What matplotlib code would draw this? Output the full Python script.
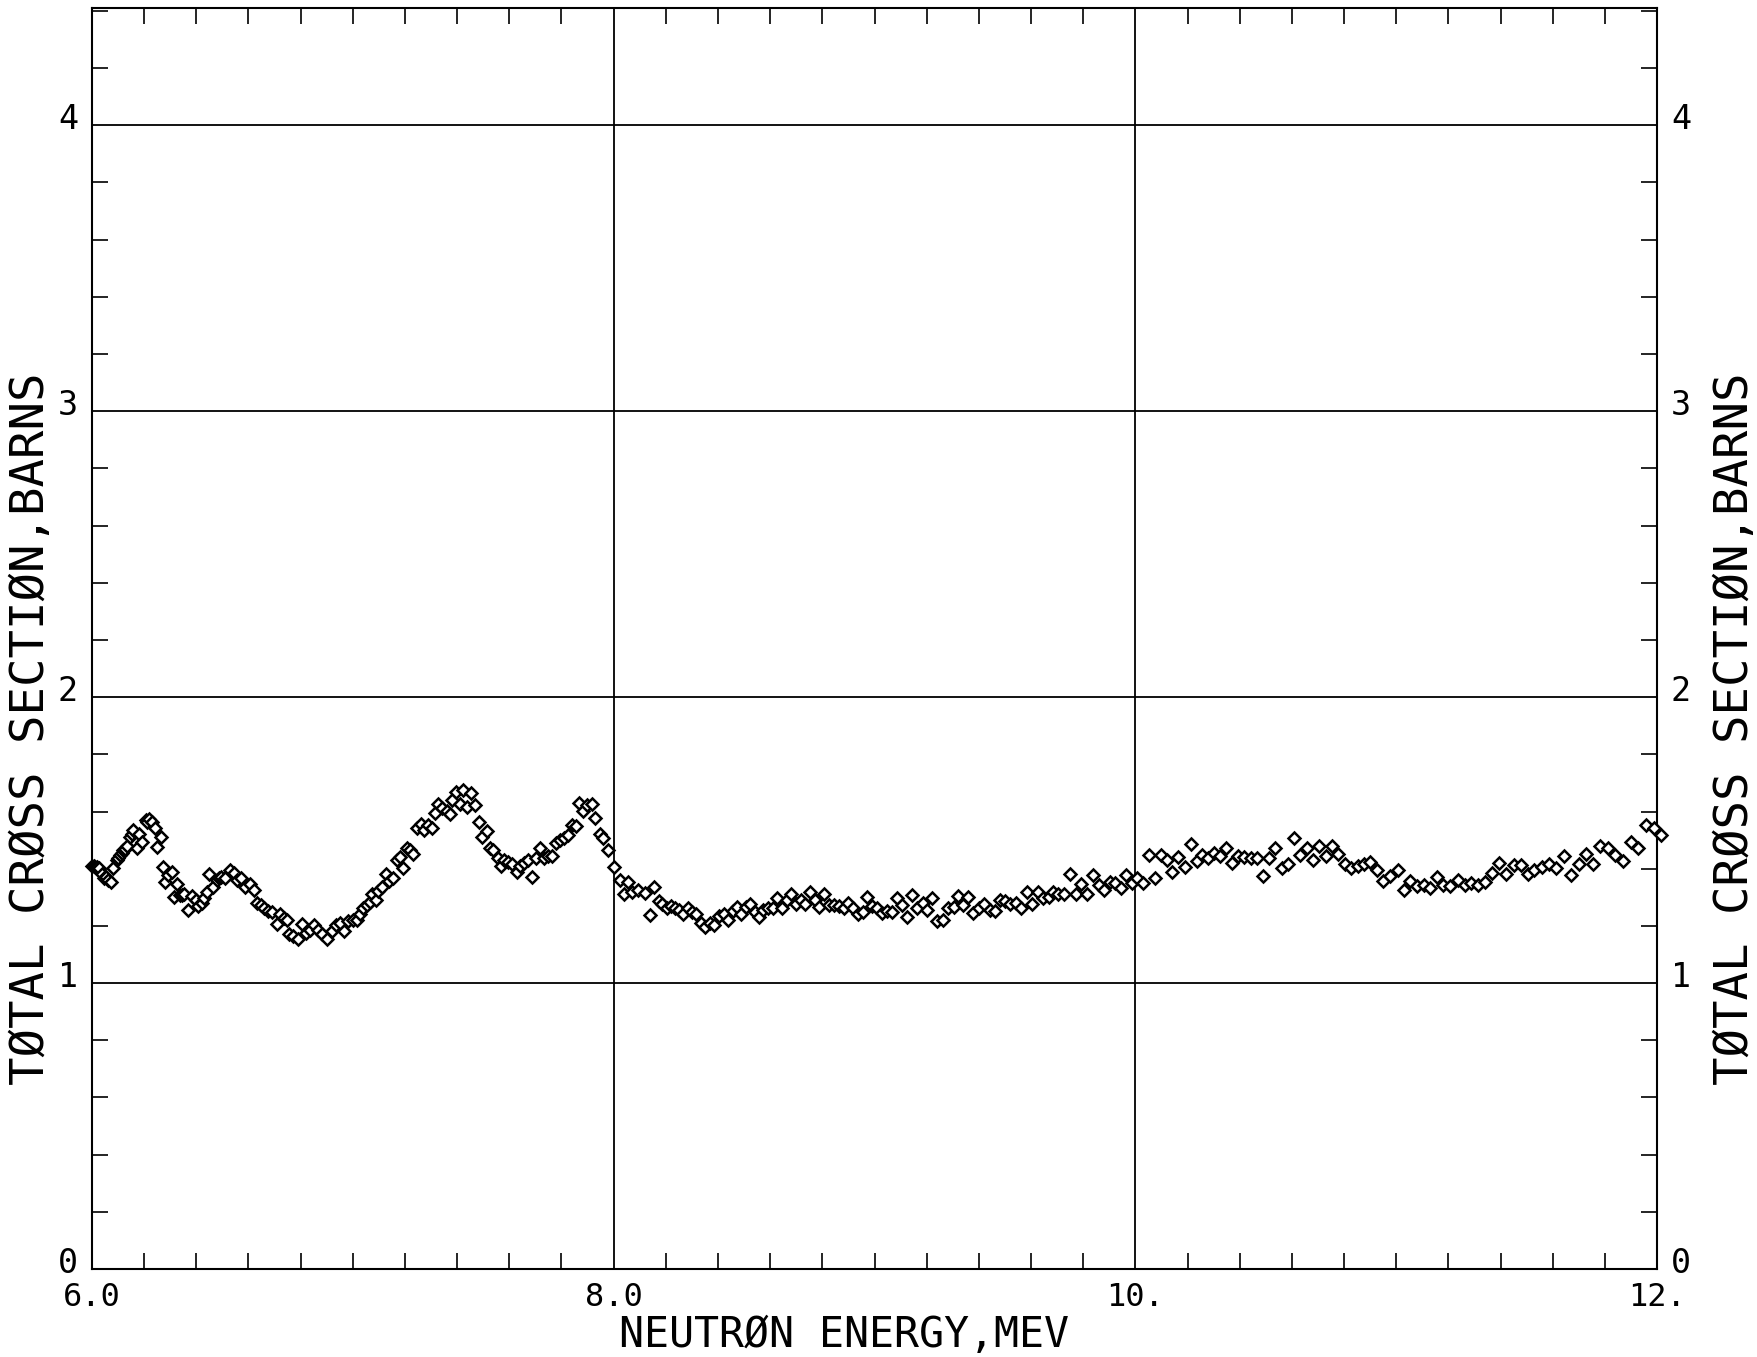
import matplotlib.pyplot as plt
import numpy as np
from matplotlib.transforms import ScaledTranslation

# total cross section vs neutron energy
energy_mev = [
    5.999, 6.006, 6.012, 6.020, 6.027, 6.040, 6.047, 6.055, 6.063, 6.073, 6.082, 6.095,
    6.101, 6.107, 6.114, 6.120, 6.126, 6.133, 6.146, 6.152, 6.159, 6.171, 6.180, 6.193,
    6.206, 6.212, 6.219, 6.229, 6.242, 6.248, 6.263, 6.271, 6.280, 6.293, 6.306, 6.316,
    6.326, 6.337, 6.345, 6.353, 6.369, 6.382, 6.397, 6.408, 6.420, 6.431, 6.440, 6.449,
    6.465, 6.478, 6.487, 6.495, 6.510, 6.529, 6.544, 6.555, 6.570, 6.587, 6.606, 6.622,
    6.634, 6.647, 6.660, 6.676, 6.691, 6.708, 6.721, 6.736, 6.748, 6.757, 6.772, 6.789,
    6.804, 6.819, 6.836, 6.852, 6.868, 6.883, 6.900, 6.919, 6.934, 6.951, 6.968, 6.983,
    7.002, 7.015, 7.028, 7.040, 7.053, 7.066, 7.075, 7.088, 7.098, 7.113, 7.126, 7.139,
    7.155, 7.168, 7.181, 7.194, 7.206, 7.219, 7.232, 7.245, 7.260, 7.274, 7.290, 7.302,
    7.315, 7.328, 7.343, 7.360, 7.373, 7.382, 7.394, 7.411, 7.424, 7.437, 7.453, 7.469,
    7.484, 7.497, 7.513, 7.526, 7.539, 7.555, 7.568, 7.581, 7.596, 7.612, 7.628, 7.641,
    7.656, 7.673, 7.686, 7.702, 7.718, 7.734, 7.750, 7.765, 7.778, 7.794, 7.811, 7.826,
    7.839, 7.854, 7.868, 7.884, 7.897, 7.916, 7.929, 7.948, 7.961, 7.980, 8.003, 8.024,
    8.041, 8.054, 8.072, 8.095, 8.120, 8.140, 8.155, 8.172, 8.187, 8.203, 8.220, 8.235,
    8.251, 8.267, 8.284, 8.299, 8.316, 8.335, 8.350, 8.370, 8.386, 8.405, 8.423, 8.440,
    8.456, 8.472, 8.488, 8.506, 8.523, 8.540, 8.557, 8.574, 8.593, 8.612, 8.628, 8.644,
    8.664, 8.680, 8.698, 8.717, 8.734, 8.753, 8.772, 8.788, 8.805, 8.826, 8.845, 8.864,
    8.883, 8.900, 8.919, 8.936, 8.954, 8.973, 8.992, 9.011, 9.028, 9.047, 9.066, 9.085,
    9.104, 9.124, 9.143, 9.162, 9.184, 9.203, 9.222, 9.239, 9.262, 9.283, 9.303, 9.319,
    9.341, 9.360, 9.379, 9.399, 9.420, 9.441, 9.460, 9.482, 9.501, 9.520, 9.542, 9.562,
    9.584, 9.603, 9.625, 9.644, 9.667, 9.686, 9.705, 9.728, 9.750, 9.772, 9.792, 9.814,
    9.836, 9.859, 9.880, 9.901, 9.922, 9.944, 9.965, 9.986, 10.008, 10.031, 10.053, 10.076,
    10.098, 10.121, 10.140, 10.165, 10.191, 10.213, 10.236, 10.257, 10.280, 10.303, 10.325, 10.347,
    10.372, 10.395, 10.418, 10.443, 10.466, 10.489, 10.513, 10.536, 10.561, 10.584, 10.610, 10.632,
    10.657, 10.680, 10.705, 10.730, 10.753, 10.776, 10.802, 10.827, 10.852, 10.877, 10.900, 10.926,
    10.951, 10.977, 11.005, 11.028, 11.054, 11.079, 11.105, 11.130, 11.156, 11.181, 11.207, 11.236,
    11.262, 11.287, 11.313, 11.341, 11.367, 11.395, 11.422, 11.450, 11.478, 11.505, 11.530, 11.558,
    11.587, 11.612, 11.642, 11.671, 11.699, 11.728, 11.756, 11.782, 11.811, 11.840, 11.869, 11.900,
    11.927, 11.957, 11.987, 12.016,
]
sigma_barns = [
    1.409, 1.410, 1.407, 1.405, 1.403, 1.383, 1.366, 1.372, 1.360, 1.354, 1.401, 1.430,
    1.438, 1.447, 1.455, 1.465, 1.470, 1.479, 1.512, 1.520, 1.535, 1.471, 1.521, 1.494,
    1.570, 1.565, 1.573, 1.562, 1.544, 1.477, 1.512, 1.407, 1.354, 1.377, 1.389, 1.302,
    1.346, 1.307, 1.308, 1.310, 1.257, 1.304, 1.290, 1.270, 1.281, 1.296, 1.319, 1.381,
    1.337, 1.360, 1.366, 1.372, 1.369, 1.397, 1.386, 1.360, 1.369, 1.337, 1.346, 1.327,
    1.281, 1.273, 1.261, 1.253, 1.249, 1.206, 1.243, 1.226, 1.220, 1.171, 1.164, 1.156,
    1.208, 1.176, 1.187, 1.203, 1.185, 1.173, 1.156, 1.183, 1.203, 1.211, 1.183, 1.218,
    1.220, 1.220, 1.243, 1.261, 1.273, 1.284, 1.311, 1.292, 1.323, 1.337, 1.381, 1.358,
    1.369, 1.432, 1.442, 1.404, 1.474, 1.467, 1.453, 1.544, 1.558, 1.537, 1.552, 1.541,
    1.595, 1.626, 1.611, 1.603, 1.593, 1.640, 1.669, 1.628, 1.675, 1.616, 1.666, 1.622,
    1.564, 1.512, 1.533, 1.471, 1.465, 1.436, 1.409, 1.432, 1.424, 1.416, 1.389, 1.409,
    1.421, 1.430, 1.372, 1.439, 1.471, 1.436, 1.444, 1.444, 1.491, 1.502, 1.509, 1.517,
    1.552, 1.549, 1.630, 1.603, 1.622, 1.628, 1.576, 1.523, 1.506, 1.465, 1.407, 1.360,
    1.313, 1.354, 1.319, 1.327, 1.316, 1.238, 1.337, 1.288, 1.276, 1.261, 1.269, 1.261,
    1.257, 1.241, 1.261, 1.249, 1.243, 1.211, 1.197, 1.211, 1.203, 1.234, 1.241, 1.222,
    1.253, 1.267, 1.243, 1.267, 1.278, 1.249, 1.232, 1.255, 1.261, 1.264, 1.299, 1.264,
    1.292, 1.311, 1.278, 1.292, 1.276, 1.319, 1.292, 1.267, 1.313, 1.273, 1.273, 1.269,
    1.261, 1.281, 1.261, 1.241, 1.249, 1.302, 1.269, 1.264, 1.246, 1.253, 1.249, 1.296,
    1.273, 1.232, 1.307, 1.261, 1.281, 1.255, 1.296, 1.216, 1.220, 1.261, 1.267, 1.304,
    1.273, 1.302, 1.246, 1.261, 1.278, 1.255, 1.253, 1.290, 1.288, 1.278, 1.281, 1.264,
    1.319, 1.278, 1.319, 1.296, 1.302, 1.319, 1.311, 1.311, 1.381, 1.313, 1.348, 1.313,
    1.377, 1.342, 1.325, 1.354, 1.351, 1.331, 1.377, 1.351, 1.369, 1.351, 1.447, 1.369,
    1.447, 1.432, 1.389, 1.442, 1.407, 1.486, 1.428, 1.447, 1.439, 1.456, 1.444, 1.474,
    1.421, 1.444, 1.442, 1.436, 1.439, 1.374, 1.436, 1.471, 1.404, 1.418, 1.506, 1.447,
    1.471, 1.432, 1.479, 1.444, 1.479, 1.451, 1.416, 1.401, 1.409, 1.416, 1.424, 1.395,
    1.358, 1.374, 1.395, 1.325, 1.358, 1.339, 1.342, 1.334, 1.372, 1.342, 1.339, 1.362,
    1.342, 1.351, 1.342, 1.354, 1.386, 1.421, 1.381, 1.412, 1.412, 1.381, 1.395, 1.407,
    1.416, 1.404, 1.444, 1.377, 1.418, 1.451, 1.416, 1.479, 1.474, 1.447, 1.427, 1.494,
    1.471, 1.552, 1.544, 1.517,
]

x_major = [6, 8, 10, 12]
x_major_labels = ['6.0', '8.0', '10.', '12.']
y_major = [0, 1, 2, 3, 4]
y_major_labels = ['0', '1', '2', '3', '4']

mono = 'DejaVu Sans Mono'

fig = plt.figure(figsize=(17.58, 13.57), dpi=100)
ax = fig.add_axes([0.0523, 0.0648, 0.8903, 0.9293])

ax.plot(energy_mev, sigma_barns, linestyle='none', marker='D', markersize=6.5,
        markerfacecolor='white', markeredgecolor='black', markeredgewidth=1.8,
        clip_on=False, zorder=3)

ax.set_xlim(6, 12)
ax.set_ylim(0, 4.41)

ax.set_xticks(x_major)
ax.set_xticklabels(x_major_labels, fontfamily=mono, fontsize=23)
ax.set_xticks(np.arange(6, 12.01, 0.2), minor=True)
ax.set_yticks(y_major)
ax.set_yticklabels(y_major_labels, fontfamily=mono, fontsize=24)
ax.set_yticks(np.arange(0, 4.41, 0.2), minor=True)

ax.tick_params(which='minor', direction='in', length=11.5, width=1.2,
               top=True, right=True, bottom=True, left=True)
ax.tick_params(which='major', length=0, top=True, right=True,
               labelleft=True, labelright=True)
ax.tick_params(axis='x', which='major', pad=9)
ax.tick_params(axis='y', which='major', pad=10)

# y numbers sit a little above their grid lines
lift = ScaledTranslation(0, 9 / 100, fig.dpi_scale_trans)
for lab in ax.get_yticklabels(which='major'):
    lab.set_transform(lab.get_transform() + lift)

ax.grid(which='major', color='black', linewidth=1.3)
for sp in ax.spines.values():
    sp.set_linewidth(1.5)

fig.text(0.480, 0.016, 'NEUTRØN ENERGY,MEV', fontfamily=mono, fontsize=30,
         ha='center', va='center')
fig.text(0.018, 0.463, 'TØTAL CRØSS SECTIØN,BARNS', fontfamily=mono, fontsize=34,
         rotation=90, ha='center', va='center')
fig.text(0.987, 0.463, 'TØTAL CRØSS SECTIØN,BARNS', fontfamily=mono, fontsize=34,
         rotation=90, ha='center', va='center')

fig.savefig('out.png', dpi=100, facecolor='white')
